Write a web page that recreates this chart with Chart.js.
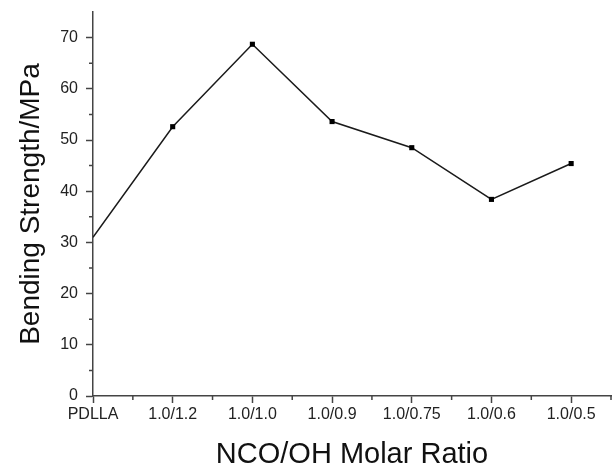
<!DOCTYPE html>
<html>
<head>
<meta charset="utf-8">
<script src="https://cdn.jsdelivr.net/npm/chart.js@4.4.1/dist/chart.umd.min.js"></script>
<style>
  html, body { margin: 0; padding: 0; background: #fff; }
  #wrap { width: 615px; height: 469px; }
</style>
</head>
<body>
<div id="wrap"><canvas id="bending_chart"></canvas></div>
<script>
// molar ratios along the x axis
var ratios = ["PDLLA", "1.0/1.2", "1.0/1.0", "1.0/0.9", "1.0/0.75", "1.0/0.6", "1.0/0.5"];
// bending strength, MPa
var strength = [31, 52.6, 68.7, 53.6, 48.5, 38.4, 45.4];
var yTicks = [0, 10, 20, 30, 40, 50, 60, 70];

var points = strength.map(function (v, i) { return { x: i, y: v }; });

// short minor ticks between the labelled ones
var minorTicks = {
  id: 'minorTicks',
  afterDraw: function (chart) {
    var ctx = chart.ctx;
    var xs = chart.scales.x, ys = chart.scales.y;
    ctx.save();
    ctx.strokeStyle = '#444';
    ctx.lineWidth = 1.5;
    ctx.beginPath();
    for (var i = 0; i < ratios.length; i++) {
      var px = xs.getPixelForValue(i + 0.5);
      ctx.moveTo(px, ys.bottom);
      ctx.lineTo(px, ys.bottom + 4);
    }
    for (var v = 5; v < 75; v += 10) {
      var py = ys.getPixelForValue(v);
      ctx.moveTo(xs.left, py);
      ctx.lineTo(xs.left - 4, py);
    }
    ctx.stroke();
    ctx.restore();
  }
};

var ctx = document.getElementById("bending_chart");
var bending_chart = new Chart(ctx, {
  type: 'line',
  data: {
    datasets: [
      {
        data: points,
        borderColor: "#1a1a1a",
        borderWidth: 1.5,
        backgroundColor: "#000",
        pointStyle: 'rect',
        pointRadius: function (c) { return c.dataIndex === 0 ? 0 : 3.6; },
        pointBorderWidth: 0,
        fill: false,
        tension: 0
      }
    ]
  },
  options: {
    responsive: true,
    maintainAspectRatio: false,
    animation: false,
    layout: { padding: { top: 12, right: 0 } },
    plugins: {
      legend: { display: false },
      tooltip: { enabled: false }
    },
    scales: {
      x: {
        type: 'linear',
        min: 0,
        max: 6.5,
        afterBuildTicks: function (scale) {
          scale.ticks = ratios.map(function (r, i) { return { value: i }; });
        },
        afterFit: function (scale) { scale.height = 73; },
        grid: { drawOnChartArea: false, tickLength: 7, tickColor: '#444', tickWidth: 1.5 },
        border: { color: '#444', width: 1.5 },
        ticks: {
          padding: 2,
          color: '#222',
          font: { family: 'Liberation Sans', size: 16 },
          maxRotation: 0,
          autoSkip: false,
          callback: function (v) { return ratios[v]; }
        },
        title: {
          display: true,
          text: 'NCO/OH Molar Ratio',
          color: '#111',
          font: { family: 'Liberation Sans', size: 29, lineHeight: 1 },
          padding: { top: 0, bottom: 0 }
        }
      },
      y: {
        min: 0,
        max: 75,
        afterBuildTicks: function (scale) {
          scale.ticks = yTicks.map(function (v) { return { value: v }; });
        },
        afterFit: function (scale) {
          scale.width = 93;
          scale.paddingTop = 0;
          scale.paddingBottom = 0;
        },
        grid: { drawOnChartArea: false, tickLength: 7, tickColor: '#444', tickWidth: 1.5 },
        border: { color: '#444', width: 1.5 },
        ticks: {
          padding: 8,
          color: '#222',
          font: { family: 'Liberation Sans', size: 16 }
        },
        title: {
          display: true,
          text: 'Bending Strength/MPa',
          color: '#111',
          font: { family: 'Liberation Sans', size: 28, lineHeight: 1 },
          padding: { top: 17, bottom: 0 }
        }
      }
    }
  },
  plugins: [minorTicks]
});
</script>
</body>
</html>
